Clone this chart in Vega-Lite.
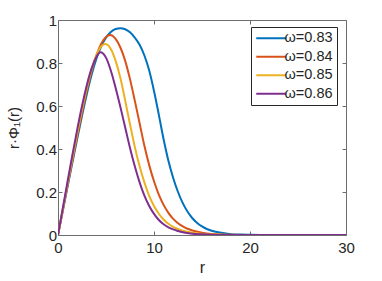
{
  "$schema": "https://vega.github.io/schema/vega-lite/v6.json",
  "width": 288,
  "height": 215,
  "autosize": "none",
  "padding": {"left": 58, "top": 20, "right": 36, "bottom": 46},
  "config": {
    "view": {"stroke": null},
    "font": "Liberation Sans",
    "axis": {
      "domainColor": "#6e6e6e",
      "tickColor": "#6e6e6e",
      "tickSize": -4,
      "labelFlush": false,
      "labelColor": "#262626",
      "labelFontSize": 15,
      "titleColor": "#262626",
      "titleFontSize": 15,
      "titleFontWeight": "normal",
      "grid": false
    }
  },
  "data": {
    "values": [
      {"r": 0, "v": 0, "w": "ω=0.83"},
      {"r": 0.5, "v": 0.113, "w": "ω=0.83"},
      {"r": 1, "v": 0.225, "w": "ω=0.83"},
      {"r": 1.5, "v": 0.337, "w": "ω=0.83"},
      {"r": 2, "v": 0.448, "w": "ω=0.83"},
      {"r": 2.5, "v": 0.555, "w": "ω=0.83"},
      {"r": 3, "v": 0.655, "w": "ω=0.83"},
      {"r": 3.5, "v": 0.745, "w": "ω=0.83"},
      {"r": 4, "v": 0.82, "w": "ω=0.83"},
      {"r": 4.5, "v": 0.878, "w": "ω=0.83"},
      {"r": 5, "v": 0.918, "w": "ω=0.83"},
      {"r": 5.5, "v": 0.944, "w": "ω=0.83"},
      {"r": 6, "v": 0.958, "w": "ω=0.83"},
      {"r": 6.5, "v": 0.962, "w": "ω=0.83"},
      {"r": 7, "v": 0.957, "w": "ω=0.83"},
      {"r": 7.5, "v": 0.943, "w": "ω=0.83"},
      {"r": 8, "v": 0.918, "w": "ω=0.83"},
      {"r": 8.5, "v": 0.885, "w": "ω=0.83"},
      {"r": 9, "v": 0.835, "w": "ω=0.83"},
      {"r": 9.5, "v": 0.765, "w": "ω=0.83"},
      {"r": 10, "v": 0.67, "w": "ω=0.83"},
      {"r": 10.5, "v": 0.56, "w": "ω=0.83"},
      {"r": 11, "v": 0.445, "w": "ω=0.83"},
      {"r": 11.5, "v": 0.345, "w": "ω=0.83"},
      {"r": 12, "v": 0.265, "w": "ω=0.83"},
      {"r": 12.5, "v": 0.2, "w": "ω=0.83"},
      {"r": 13, "v": 0.148, "w": "ω=0.83"},
      {"r": 13.5, "v": 0.108, "w": "ω=0.83"},
      {"r": 14, "v": 0.078, "w": "ω=0.83"},
      {"r": 14.5, "v": 0.056, "w": "ω=0.83"},
      {"r": 15, "v": 0.04, "w": "ω=0.83"},
      {"r": 15.5, "v": 0.028, "w": "ω=0.83"},
      {"r": 16, "v": 0.02, "w": "ω=0.83"},
      {"r": 17, "v": 0.01, "w": "ω=0.83"},
      {"r": 18, "v": 0.004, "w": "ω=0.83"},
      {"r": 19, "v": 0.002, "w": "ω=0.83"},
      {"r": 20, "v": 0.001, "w": "ω=0.83"},
      {"r": 22, "v": 0, "w": "ω=0.83"},
      {"r": 30, "v": 0, "w": "ω=0.83"},

      {"r": 0, "v": 0, "w": "ω=0.84"},
      {"r": 0.5, "v": 0.116, "w": "ω=0.84"},
      {"r": 1, "v": 0.232, "w": "ω=0.84"},
      {"r": 1.5, "v": 0.347, "w": "ω=0.84"},
      {"r": 2, "v": 0.46, "w": "ω=0.84"},
      {"r": 2.5, "v": 0.57, "w": "ω=0.84"},
      {"r": 3, "v": 0.672, "w": "ω=0.84"},
      {"r": 3.5, "v": 0.762, "w": "ω=0.84"},
      {"r": 4, "v": 0.836, "w": "ω=0.84"},
      {"r": 4.5, "v": 0.89, "w": "ω=0.84"},
      {"r": 5, "v": 0.921, "w": "ω=0.84"},
      {"r": 5.42, "v": 0.93, "w": "ω=0.84"},
      {"r": 6, "v": 0.912, "w": "ω=0.84"},
      {"r": 6.5, "v": 0.872, "w": "ω=0.84"},
      {"r": 7, "v": 0.81, "w": "ω=0.84"},
      {"r": 7.5, "v": 0.725, "w": "ω=0.84"},
      {"r": 8, "v": 0.625, "w": "ω=0.84"},
      {"r": 8.5, "v": 0.52, "w": "ω=0.84"},
      {"r": 9, "v": 0.415, "w": "ω=0.84"},
      {"r": 9.5, "v": 0.325, "w": "ω=0.84"},
      {"r": 10, "v": 0.25, "w": "ω=0.84"},
      {"r": 10.5, "v": 0.188, "w": "ω=0.84"},
      {"r": 11, "v": 0.14, "w": "ω=0.84"},
      {"r": 11.5, "v": 0.103, "w": "ω=0.84"},
      {"r": 12, "v": 0.075, "w": "ω=0.84"},
      {"r": 12.5, "v": 0.055, "w": "ω=0.84"},
      {"r": 13, "v": 0.04, "w": "ω=0.84"},
      {"r": 13.5, "v": 0.029, "w": "ω=0.84"},
      {"r": 14, "v": 0.021, "w": "ω=0.84"},
      {"r": 15, "v": 0.011, "w": "ω=0.84"},
      {"r": 16, "v": 0.005, "w": "ω=0.84"},
      {"r": 17, "v": 0.002, "w": "ω=0.84"},
      {"r": 18, "v": 0.001, "w": "ω=0.84"},
      {"r": 20, "v": 0, "w": "ω=0.84"},
      {"r": 30, "v": 0, "w": "ω=0.84"},

      {"r": 0, "v": 0, "w": "ω=0.85"},
      {"r": 0.5, "v": 0.12, "w": "ω=0.85"},
      {"r": 1, "v": 0.24, "w": "ω=0.85"},
      {"r": 1.5, "v": 0.358, "w": "ω=0.85"},
      {"r": 2, "v": 0.474, "w": "ω=0.85"},
      {"r": 2.5, "v": 0.585, "w": "ω=0.85"},
      {"r": 3, "v": 0.685, "w": "ω=0.85"},
      {"r": 3.5, "v": 0.771, "w": "ω=0.85"},
      {"r": 4, "v": 0.837, "w": "ω=0.85"},
      {"r": 4.5, "v": 0.877, "w": "ω=0.85"},
      {"r": 4.9, "v": 0.888, "w": "ω=0.85"},
      {"r": 5.5, "v": 0.865, "w": "ω=0.85"},
      {"r": 6, "v": 0.81, "w": "ω=0.85"},
      {"r": 6.5, "v": 0.73, "w": "ω=0.85"},
      {"r": 7, "v": 0.625, "w": "ω=0.85"},
      {"r": 7.5, "v": 0.515, "w": "ω=0.85"},
      {"r": 8, "v": 0.41, "w": "ω=0.85"},
      {"r": 8.5, "v": 0.32, "w": "ω=0.85"},
      {"r": 9, "v": 0.245, "w": "ω=0.85"},
      {"r": 9.5, "v": 0.182, "w": "ω=0.85"},
      {"r": 10, "v": 0.135, "w": "ω=0.85"},
      {"r": 10.5, "v": 0.099, "w": "ω=0.85"},
      {"r": 11, "v": 0.072, "w": "ω=0.85"},
      {"r": 11.5, "v": 0.052, "w": "ω=0.85"},
      {"r": 12, "v": 0.038, "w": "ω=0.85"},
      {"r": 12.5, "v": 0.028, "w": "ω=0.85"},
      {"r": 13, "v": 0.02, "w": "ω=0.85"},
      {"r": 14, "v": 0.01, "w": "ω=0.85"},
      {"r": 15, "v": 0.005, "w": "ω=0.85"},
      {"r": 16, "v": 0.002, "w": "ω=0.85"},
      {"r": 18, "v": 0, "w": "ω=0.85"},
      {"r": 30, "v": 0, "w": "ω=0.85"},

      {"r": 0, "v": 0, "w": "ω=0.86"},
      {"r": 0.5, "v": 0.125, "w": "ω=0.86"},
      {"r": 1, "v": 0.25, "w": "ω=0.86"},
      {"r": 1.5, "v": 0.372, "w": "ω=0.86"},
      {"r": 2, "v": 0.49, "w": "ω=0.86"},
      {"r": 2.5, "v": 0.6, "w": "ω=0.86"},
      {"r": 3, "v": 0.697, "w": "ω=0.86"},
      {"r": 3.5, "v": 0.775, "w": "ω=0.86"},
      {"r": 4, "v": 0.828, "w": "ω=0.86"},
      {"r": 4.4, "v": 0.85, "w": "ω=0.86"},
      {"r": 5, "v": 0.825, "w": "ω=0.86"},
      {"r": 5.5, "v": 0.765, "w": "ω=0.86"},
      {"r": 6, "v": 0.685, "w": "ω=0.86"},
      {"r": 6.5, "v": 0.595, "w": "ω=0.86"},
      {"r": 7, "v": 0.5, "w": "ω=0.86"},
      {"r": 7.5, "v": 0.405, "w": "ω=0.86"},
      {"r": 8, "v": 0.32, "w": "ω=0.86"},
      {"r": 8.5, "v": 0.245, "w": "ω=0.86"},
      {"r": 9, "v": 0.183, "w": "ω=0.86"},
      {"r": 9.5, "v": 0.135, "w": "ω=0.86"},
      {"r": 10, "v": 0.098, "w": "ω=0.86"},
      {"r": 10.5, "v": 0.07, "w": "ω=0.86"},
      {"r": 11, "v": 0.05, "w": "ω=0.86"},
      {"r": 11.5, "v": 0.036, "w": "ω=0.86"},
      {"r": 12, "v": 0.026, "w": "ω=0.86"},
      {"r": 12.5, "v": 0.019, "w": "ω=0.86"},
      {"r": 13, "v": 0.013, "w": "ω=0.86"},
      {"r": 14, "v": 0.006, "w": "ω=0.86"},
      {"r": 15, "v": 0.003, "w": "ω=0.86"},
      {"r": 16, "v": 0.001, "w": "ω=0.86"},
      {"r": 18, "v": 0, "w": "ω=0.86"},
      {"r": 30, "v": 0, "w": "ω=0.86"}
    ]
  },
  "layer": [
    {
      "mark": {"type": "line", "interpolate": "monotone", "strokeWidth": 2, "clip": true},
      "encoding": {
        "x": {"field": "r", "type": "quantitative", "scale": {"domain": [0, 30], "nice": false},
              "axis": {"orient": "bottom", "values": [0, 10, 20, 30], "title": "r", "titleFontSize": 16, "labelPadding": 9, "titlePadding": 4}},
        "y": {"field": "v", "type": "quantitative", "scale": {"domain": [0, 1], "nice": false},
              "axis": {"orient": "left", "values": [0, 0.2, 0.4, 0.6, 0.8, 1], "format": "~g", "title": "r·Φ₁(r)", "labelPadding": 5.5, "titlePadding": 14}},
        "color": {"field": "w", "type": "nominal",
                  "scale": {"domain": ["ω=0.83", "ω=0.84", "ω=0.85", "ω=0.86"], "range": ["#0072BD", "#D95319", "#EDB120", "#7E2F8E"]},
                  "legend": {"orient": "none", "legendX": 193, "legendY": 7, "title": null,
                             "strokeColor": "#262626", "fillColor": "white", "padding": 4,
                             "symbolType": "M-1,0H4", "symbolSize": 144, "symbolStrokeWidth": 2,
                             "labelFontSize": 14.5, "labelColor": "#262626", "rowPadding": 3.5, "labelOffset": 15}}
      }
    },
    {
      "mark": {"type": "line", "opacity": 0},
      "encoding": {
        "x": {"field": "r", "type": "quantitative", "axis": {"orient": "top", "values": [0, 10, 20, 30], "labels": false, "title": null}},
        "y": {"field": "v", "type": "quantitative", "axis": {"orient": "right", "values": [0, 0.2, 0.4, 0.6, 0.8, 1], "labels": false, "title": null}},
        "detail": {"field": "w"}
      }
    }
  ],
  "resolve": {"axis": {"x": "independent", "y": "independent"}}
}
